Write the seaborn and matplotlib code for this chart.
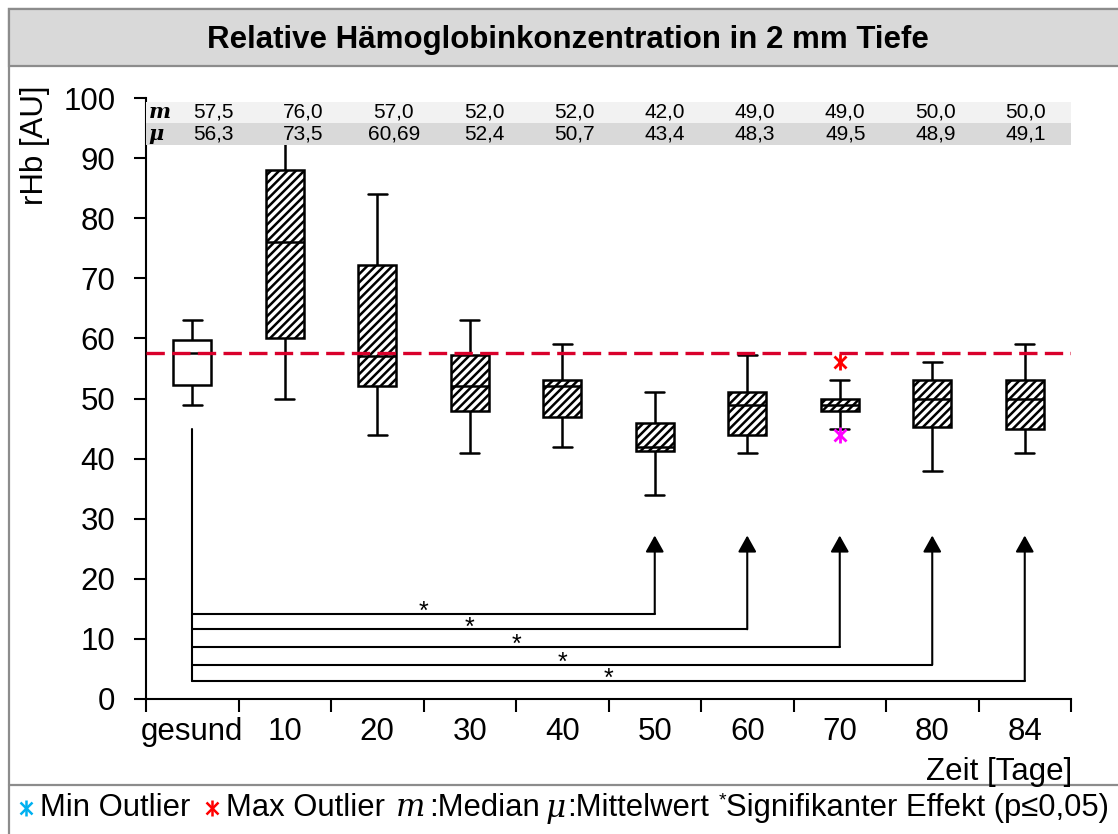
import numpy as np
import pandas as pd
import matplotlib
matplotlib.use("Agg")
import matplotlib.pyplot as plt
import seaborn as sns
from matplotlib.patches import Rectangle
from matplotlib.lines import Line2D

# categories and five-number summaries
cats = ["gesund", "10", "20", "30", "40", "50", "60", "70", "80", "84"]
lo = [49, 50, 44, 41, 42, 34, 41, 45, 38, 41]
q1 = [52.2, 60, 52, 48, 47, 41.2, 44, 48, 45.3, 45]
med = [57.5, 76, 57, 52, 52, 42, 49, 49, 50, 50]
q3 = [59.8, 88, 72.2, 57.2, 53, 46, 51, 50, 53, 53]
hi = [63, 95, 84, 63, 59, 51, 57.2, 53, 56, 59]

# table rows (median / mean) as printed
m_labels = ["57,5", "76,0", "57,0", "52,0", "52,0", "42,0", "49,0", "49,0", "50,0", "50,0"]
mu_labels = ["56,3", "73,5", "60,69", "52,4", "50,7", "43,4", "48,3", "49,5", "48,9", "49,1"]

# outliers of group 70
max_out = ("70", 56)
min_out = ("70", 44)

# reference line (median of gesund)
ref_level = 57.5

# significance comparisons: gesund vs these groups, bracket heights
sig_targets = ["50", "60", "70", "80", "84"]
sig_levels = [14.2, 11.6, 8.7, 5.7, 3.05]
sig_start = 45
arrow_tip = 27.2

df = pd.DataFrame({
    "Zeit": np.repeat(cats, 5),
    "rHb": np.column_stack([lo, q1, med, q3, hi]).ravel(),
})

sns.set_theme(style="ticks")
plt.rcParams["font.family"] = ["Liberation Sans", "DejaVu Sans"]
plt.rcParams["hatch.linewidth"] = 1.8
plt.rcParams["hatch.color"] = "black"
for k in ("text.color", "axes.labelcolor", "xtick.color", "ytick.color"):
    plt.rcParams[k] = "black"

W, H = 1118, 834
FS = 22.5
fig = plt.figure(figsize=(W / 100, H / 100), dpi=100)
ax = fig.add_axes([146 / W, 1 - 699 / H, (1071 - 146) / W, (699 - 98) / H])

sns.boxplot(data=df, x="Zeit", y="rHb", order=cats, whis=(0, 100), width=0.41,
            color="white", saturation=1, linecolor="black", linewidth=1.8,
            fliersize=0, ax=ax)
for i, p in enumerate(ax.patches):
    p.set_facecolor("white")
    if i > 0:
        p.set_hatch("////")

pos = {c: i for i, c in enumerate(cats)}

# dashed reference line
ax.axhline(ref_level, color="#d9002b", lw=2.4, ls=(0, (5.5, 2.2)), zorder=5)

# outliers
for (c, v), col in [(max_out, "#ff0000"), (min_out, "#ff00ff")]:
    ax.plot([pos[c]], [v], marker="x", ms=9, mew=2, color=col, zorder=6)
    ax.plot([pos[c]], [v], marker="|", ms=11, mew=2, color=col, zorder=6)

# table rows: a narrow label column, then ten equal columns
ax.fill_between([-0.5, 9.5], 95.9, 99.4, color="#f2f2f2", lw=0, zorder=7)
ax.fill_between([-0.5, 9.5], 92.2, 95.9, color="#d9d9d9", lw=0, zorder=7)
col_left = -0.26
col_w = (9.5 - col_left) / len(cats)
for i in range(len(cats)):
    cx = col_left + col_w * (i + 0.5)
    ax.text(cx, 97.65, m_labels[i], ha="center", va="center", fontsize=15, zorder=8)
    ax.text(cx, 94.05, mu_labels[i], ha="center", va="center", fontsize=15, zorder=8)
ax.text(-0.47, 97.65, "m", ha="left", va="center", fontsize=15, family="DejaVu Serif",
        style="italic", weight="bold", zorder=8)
ax.text(-0.47, 94.05, "\u03bc", ha="left", va="center", fontsize=15, family="DejaVu Serif",
        style="italic", weight="bold", zorder=8)

# significance brackets
ax.plot([0, 0], [sig_start, min(sig_levels)], color="black", lw=1.5)
for t, lev in zip(sig_targets, sig_levels):
    x = pos[t]
    ax.plot([0, x], [lev, lev], color="black", lw=1.5)
    ax.annotate("", xy=(x, arrow_tip), xytext=(x, lev),
                arrowprops=dict(arrowstyle="-|>,head_length=0.5,head_width=0.28",
                                color="black", lw=1.5, shrinkA=0, shrinkB=0,
                                mutation_scale=20))
    ax.text(x / 2, lev + 0.3, "*", ha="center", va="center", fontsize=18)

# axes styling
ax.set_ylim(0, 100)
ax.set_yticks(range(0, 101, 10))
ax.set_xlim(-0.5, 9.5)
bounds = np.arange(-0.5, 10, 1)
ax.set_xticks(bounds, labels=[""] * len(bounds))
ax.set_xticks(range(len(cats)), labels=cats, minor=True)
ax.tick_params(axis="x", which="major", length=9, width=1.5, direction="out")
ax.tick_params(axis="x", which="minor", length=0, pad=13, labelsize=FS)
ax.tick_params(axis="y", length=9, width=1.5, pad=13, labelsize=FS)
ax.set_xlabel("")
ax.set_ylabel("rHb [AU]", loc="top", fontsize=FS)
ax.yaxis.set_label_coords(-0.104, 1.02)
sns.despine(ax=ax)
for s in ("left", "bottom"):
    ax.spines[s].set_linewidth(1.5)
    ax.spines[s].set_color("black")

# frame, title band and legend row
fig.patches.append(Rectangle((9 / W, -0.1), 1.2, 1.1 - 9 / H, transform=fig.transFigure,
                             facecolor="none", edgecolor="#8c8c8c", lw=1.6, zorder=0))
fig.patches.append(Rectangle((9 / W, 1 - 66 / H), 1.2, 57 / H, transform=fig.transFigure,
                             facecolor="#d9d9d9", edgecolor="#8c8c8c", lw=1.6, zorder=0))
fig.add_artist(Line2D([9 / W, 1.1], [1 - 785 / H] * 2, color="#8c8c8c", lw=1.6))
fig.text(568 / W, 1 - 40 / H, "Relative Hämoglobinkonzentration in 2 mm Tiefe",
         ha="center", va="center", fontsize=22.5, weight="bold")
fig.text(1072 / W, 1 - 772 / H, "Zeit [Tage]", ha="right", va="center", fontsize=FS)

# legend row, laid out piece by piece
ly = 1 - 808 / H
LFS = 22.3
renderer = fig.canvas.get_renderer()
pieces = [
    ("mark", "#00b0f0", 20), ("text", "Min Outlier", 8),
    ("mark", "#ff0000", 16), ("text", "Max Outlier", 8),
    ("serif", "m", 10), ("text", ":Median", 4),
    ("serif", "\u03bc", 6), ("text", ":Mittelwert", 1),
    ("star", "*", 10), ("text", "Signifikanter Effekt (p\u22640,05)", 0),
]
xc = 0
for kind, val, gap in pieces:
    xc += gap
    if kind == "mark":
        for mk, ms in (("x", 8), ("|", 11)):
            fig.add_artist(Line2D([(xc + 6) / W], [ly], marker=mk, ms=ms, mew=1.8, color=val))
        xc += 12
        continue
    kw = dict(ha="left", va="center", fontsize=LFS)
    yy = ly
    if kind == "serif":
        kw.update(family="DejaVu Serif", style="italic")
    if kind == "star":
        kw.update(fontsize=14)
        yy = ly + 0.008
    t = fig.text(xc / W, yy, val, **kw)
    xc += t.get_window_extent(renderer).width

fig.savefig("out.png", dpi=100)
